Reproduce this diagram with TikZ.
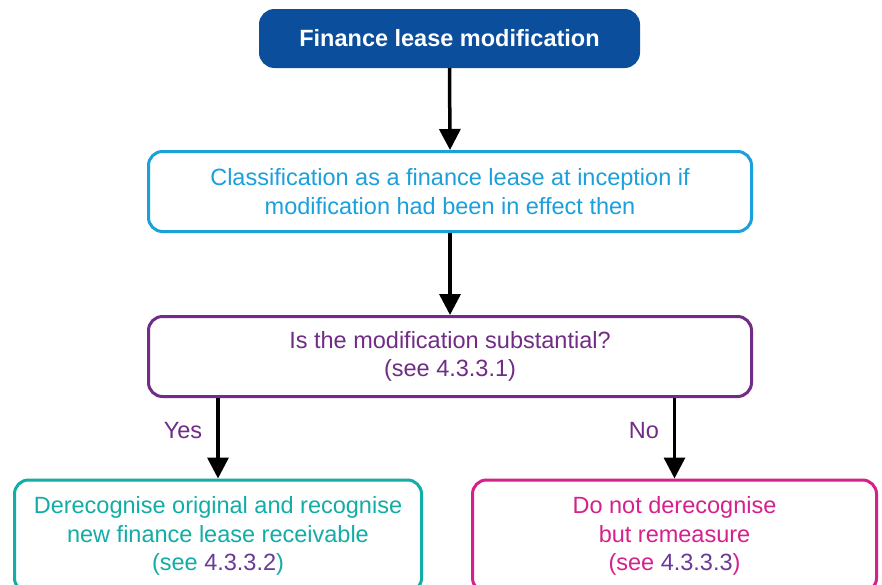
\documentclass[tikz,border=0pt]{standalone}
\usepackage{fontspec}
\setmainfont{Liberation Sans}
\usetikzlibrary{arrows.meta}
\definecolor{kblue}{HTML}{0B4F9C}
\definecolor{klight}{HTML}{1BA0DC}
\definecolor{kpurple}{HTML}{702C86}
\definecolor{klink}{HTML}{6A3A96}
\definecolor{kteal}{HTML}{12ADA6}
\definecolor{kpink}{HTML}{D6218C}
\begin{document}
\begin{tikzpicture}[x=1pt,y=-1pt,
  box/.style={draw, line width=3pt, rounded corners=14pt, align=center, inner sep=0pt,
    font=\fontsize{23.5}{28.5}\selectfont},
  arr/.style={line width=3.5pt, -{Triangle[length=21pt,width=21pt]}},
  lab/.style={text=kpurple, font=\fontsize{23.5}{28}\selectfont, inner sep=0pt}]
\clip (0,0) rectangle (882,584);
\fill[white] (0,0) rectangle (882,584);
\node[box, fill=kblue, draw=kblue, text=white, font=\bfseries\fontsize{23.5}{28}\selectfont,
  minimum width=378pt, minimum height=56pt] (title) at (449.5,38.5) {Finance lease modification};
\node[box, draw=klight, text=klight, minimum width=603pt, minimum height=80pt] (class) at (450,191.5)
  {Classification as a finance lease at inception if\\modification had been in effect then};
\node[box, draw=kpurple, text=kpurple, minimum width=603pt, minimum height=80pt] (subst) at (450,356.5)
  {Is the modification substantial?\\(see 4.3.3.1)};
\node[box, draw=kteal, text=kteal, minimum width=407pt, minimum height=112pt] (derec) at (218,536)
  {Derecognise original and recognise\\new finance lease receivable\\(see \textcolor{klink}{4.3.3.2})};
\node[box, draw=kpink, text=kpink, minimum width=404pt, minimum height=112pt] (remeas) at (674.5,536)
  {Do not derecognise\\but remeasure\\(see \textcolor{klink}{4.3.3.3})};
\draw[arr] (title.south) -- (class.north);
\draw[arr] (class.south) -- (subst.north);
\draw[arr] (derec.north |- subst.south) -- (derec.north);
\draw[arr] (remeas.north |- subst.south) -- (remeas.north);
\node[lab] (yes) at (183,431) {Yes};
\node[lab] (no) at (644,431) {No};
\end{tikzpicture}
\end{document}
